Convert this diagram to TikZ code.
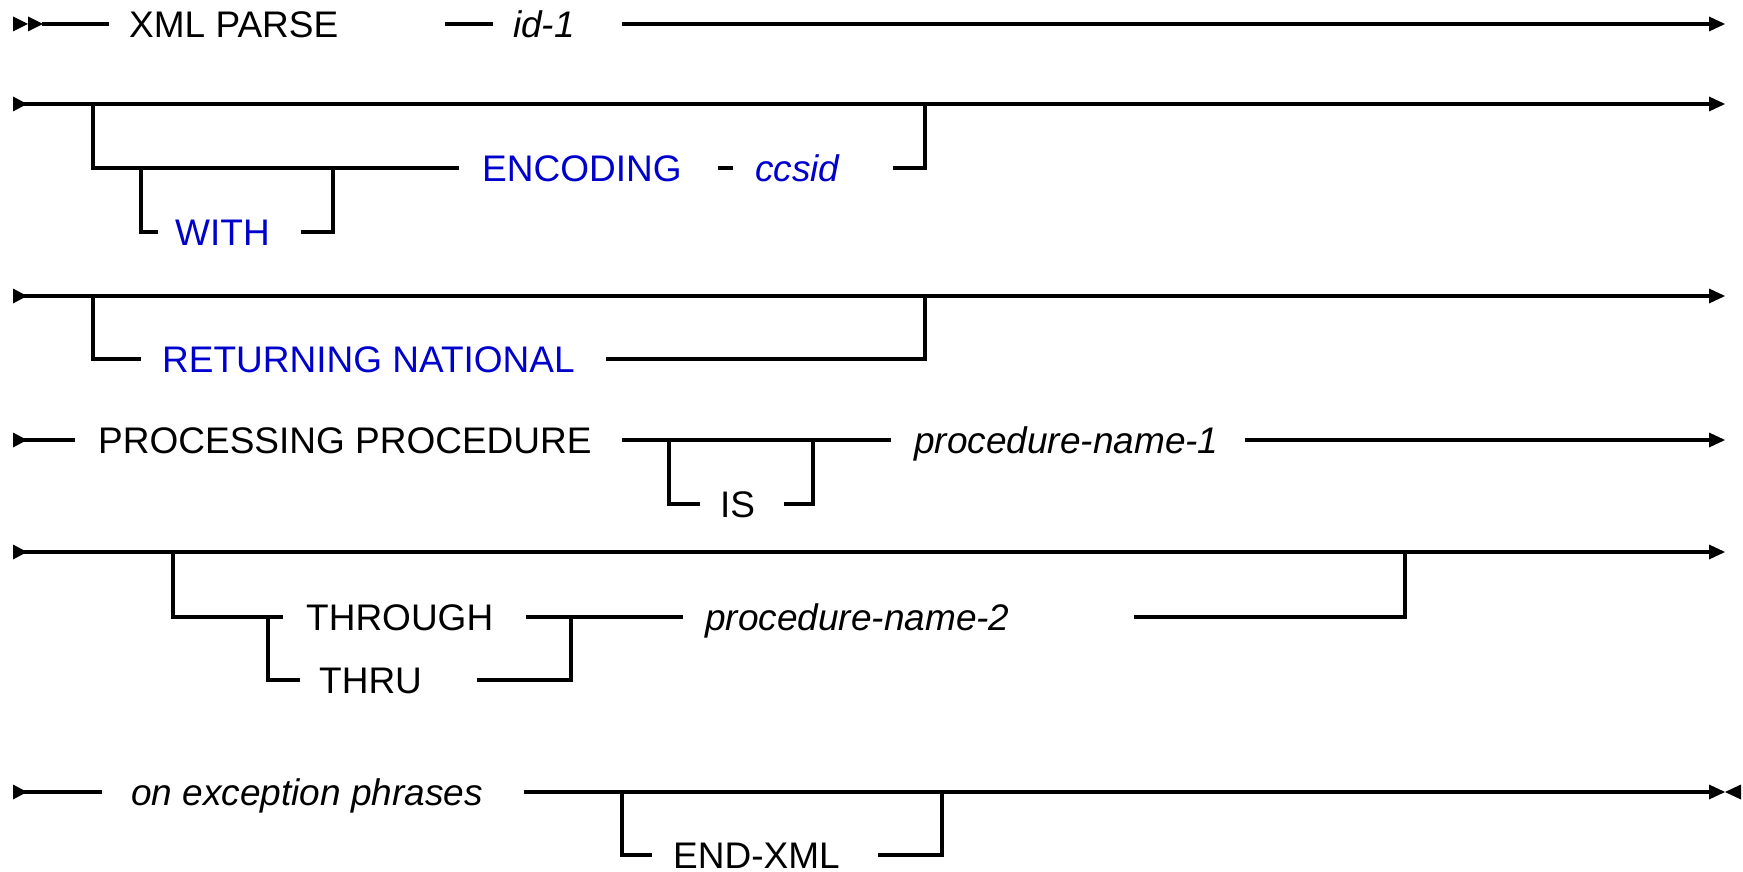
\documentclass[tikz,border=0pt]{standalone}
\usepackage{fontspec}
\setmainfont{Liberation Sans}
\definecolor{kwblue}{RGB}{0,0,205}
\begin{document}
\begin{tikzpicture}[x=1pt,y=-1pt,
  rail/.style={line width=3.2pt},
  tip/.style={fill=black},
  lbl/.style={anchor=west,inner sep=0pt,text height=26.5pt,text depth=0pt,font=\fontsize{37}{40}\selectfont},
  var/.style={lbl,font=\fontsize{37}{40}\selectfont\itshape},
  kw/.style={text=kwblue}
]
\useasboundingbox[fill=white] (0,0) rectangle (1743,872);

% ---------------- Row 1 ----------------
\fill[tip] (13,16.5) -- (28,24) -- (13,31.5) -- cycle;
\fill[tip] (28,16.5) -- (43,24) -- (28,31.5) -- cycle;
\node[lbl] (xml) at (129,24) {XML PARSE};
\node[var] (id1) at (513,24) {id-1};
\coordinate (a1) at (42,24);  \coordinate (a2) at (109,24);
\coordinate (a3) at (445,24); \coordinate (a4) at (493,24);
\coordinate (a5) at (622,24); \coordinate (a6) at (1712,24);
\draw[rail] (a1) -- (a2);
\draw[rail] (a3) -- (a4);
\draw[rail] (a5) -- (a6);
\fill[tip] (1709,16.5) -- (1725,24) -- (1709,31.5) -- cycle;

% ---------------- Row 2 ----------------
\fill[tip] (13,96.5) -- (27,104) -- (13,111.5) -- cycle;
\coordinate (b0) at (14,104); \coordinate (b9) at (1712,104);
\coordinate (bj) at (93,104); \coordinate (bk) at (925,104);
\draw[rail] (b0) -- (b9);
\fill[tip] (1709,96.5) -- (1725,104) -- (1709,111.5) -- cycle;
\node[lbl,kw] (with) at (175,232) {WITH};
\node[lbl,kw] (enc) at (482,168) {ENCODING};
\node[var,kw] (ccsid) at (755,168) {ccsid};
\coordinate (b1) at (93,168);  \coordinate (b2) at (459,168);
\coordinate (w1) at (141,168); \coordinate (w2) at (141,232);
\coordinate (w3) at (158,232); \coordinate (w4) at (301,232);
\coordinate (w5) at (333,232); \coordinate (w6) at (333,168);
\coordinate (d1) at (718,168); \coordinate (d2) at (733,168);
\coordinate (c1) at (893,168); \coordinate (c2) at (925,168);
\draw[rail] (bj) -- (b1) -- (b2);
\draw[rail] (w1) -- (w2) -- (w3);
\draw[rail] (w4) -- (w5) -- (w6);
\draw[rail] (d1) -- (d2);
\draw[rail] (c1) -- (c2) -- (bk);

% ---------------- Row 3 ----------------
\fill[tip] (13,288.5) -- (27,296) -- (13,303.5) -- cycle;
\coordinate (r0) at (14,296); \coordinate (r9) at (1712,296);
\draw[rail] (r0) -- (r9);
\fill[tip] (1709,288.5) -- (1725,296) -- (1709,303.5) -- cycle;
\node[lbl,kw] (ret) at (162,359) {RETURNING NATIONAL};
\coordinate (rj) at (93,296);  \coordinate (r1) at (93,359);
\coordinate (r2) at (141,359); \coordinate (r3) at (606,359);
\coordinate (r4) at (925,359); \coordinate (rk) at (925,296);
\draw[rail] (rj) -- (r1) -- (r2);
\draw[rail] (r3) -- (r4) -- (rk);

% ---------------- Row 4 ----------------
\fill[tip] (13,432.5) -- (27,440) -- (13,447.5) -- cycle;
\node[lbl] (pp) at (98,440) {PROCESSING PROCEDURE};
\node[lbl] (is) at (720,504) {IS};
\node[var] (pn1) at (914,440) {procedure-name-1};
\coordinate (p0) at (14,440);  \coordinate (p1) at (75,440);
\coordinate (p2) at (622,440); \coordinate (p3) at (891,440);
\coordinate (p4) at (1245,440);\coordinate (p5) at (1712,440);
\coordinate (i0) at (669,440); \coordinate (i1) at (669,504);
\coordinate (i2) at (700,504); \coordinate (i3) at (784,504);
\coordinate (i4) at (813,504); \coordinate (i5) at (813,440);
\draw[rail] (p0) -- (p1);
\draw[rail] (p2) -- (p3);
\draw[rail] (p4) -- (p5);
\draw[rail] (i0) -- (i1) -- (i2);
\draw[rail] (i3) -- (i4) -- (i5);
\fill[tip] (1709,432.5) -- (1725,440) -- (1709,447.5) -- cycle;

% ---------------- Row 5 ----------------
\fill[tip] (13,544.5) -- (27,552) -- (13,559.5) -- cycle;
\coordinate (t0) at (14,552); \coordinate (t9) at (1712,552);
\draw[rail] (t0) -- (t9);
\fill[tip] (1709,544.5) -- (1725,552) -- (1709,559.5) -- cycle;
\node[lbl] (thr) at (306,617) {THROUGH};
\node[lbl] (thru) at (319,680) {THRU};
\node[var] (pn2) at (705,617) {procedure-name-2};
\coordinate (tj) at (173,552);  \coordinate (t1) at (173,617);
\coordinate (t2) at (283,617);  \coordinate (tb) at (268,617);
\coordinate (tc) at (268,680);  \coordinate (td) at (300,680);
\coordinate (te) at (526,617);  \coordinate (tf) at (571,617);
\coordinate (tg) at (477,680);  \coordinate (th) at (571,680);
\coordinate (ti) at (683,617);
\coordinate (tk) at (1134,617); \coordinate (tl) at (1405,617);
\coordinate (tm) at (1405,552);
\draw[rail] (tj) -- (t1) -- (t2);
\draw[rail] (tb) -- (tc) -- (td);
\draw[rail] (te) -- (ti);
\draw[rail] (tg) -- (th) -- (tf);
\draw[rail] (tk) -- (tl) -- (tm);

% ---------------- Row 6 ----------------
\fill[tip] (13,784.5) -- (27,792) -- (13,799.5) -- cycle;
\node[var] (onex) at (131,792) {on exception phrases};
\node[lbl] (endxml) at (673,855) {END-XML};
\coordinate (o0) at (14,792);  \coordinate (o1) at (102,792);
\coordinate (o2) at (524,792); \coordinate (o3) at (1712,792);
\coordinate (x0) at (622,792); \coordinate (x1) at (622,855);
\coordinate (x2) at (652,855); \coordinate (x3) at (878,855);
\coordinate (x4) at (942,855); \coordinate (x5) at (942,792);
\draw[rail] (o0) -- (o1);
\draw[rail] (o2) -- (o3);
\draw[rail] (x0) -- (x1) -- (x2);
\draw[rail] (x3) -- (x4) -- (x5);
\fill[tip] (1709,784.5) -- (1725,792) -- (1709,799.5) -- cycle;
\fill[tip] (1741,784.5) -- (1725,792) -- (1741,799.5) -- cycle;
\end{tikzpicture}
\end{document}
